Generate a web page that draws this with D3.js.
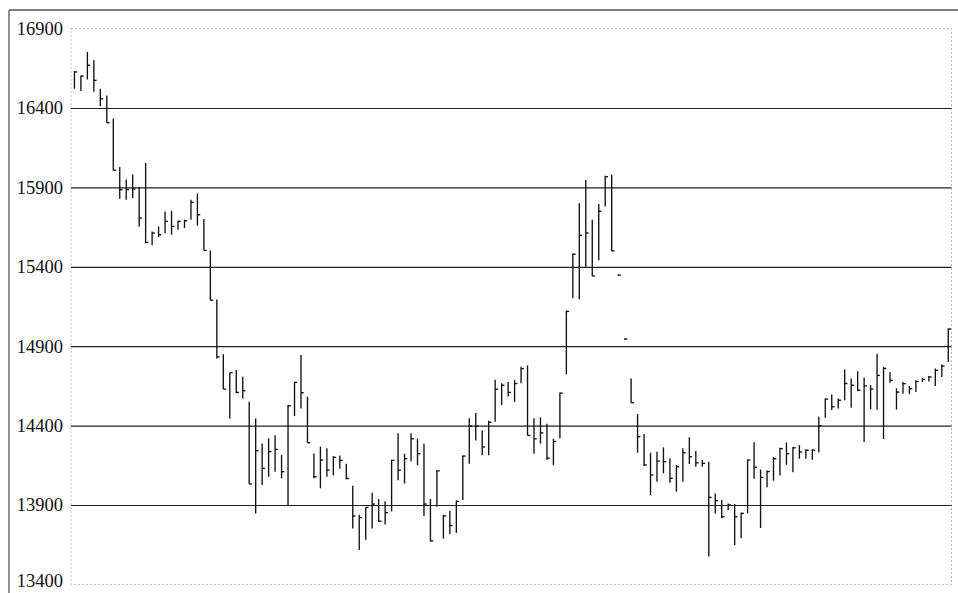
<!DOCTYPE html>
<html>
<head>
<meta charset="utf-8">
<script src="https://cdn.jsdelivr.net/npm/d3@7"></script>
<style>
  html, body { margin: 0; padding: 0; background: #fff; }
  svg { display: block; }
</style>
</head>
<body>
<svg id="chart" width="958" height="593"></svg>
<script>
// ---- data (one entry per trading slot) ----
const highs = [
  16633,16605,16753,16700,16521,16479,16332,16029,15949,15981,
  15903,16054,15623,15654,15749,15753,15690,15697,15823,15861,
  15701,15503,15194,14850,14733,14750,14708,14550,14445,14288,
  14320,14340,14215,14529,14676,14844,14582,14225,14267,14257,
  14208,14212,14160,14021,13838,13885,13977,13938,13923,14185,
  14352,14223,14352,14317,14285,13938,14119,13838,13864,13928,
  14212,14446,14479,14369,14431,14688,14667,14675,14688,14771,
  14779,14446,14452,14411,14317,14608,15125,15483,15800,15946,
  15696,15796,15973,15979,15348,14945,14697,14473,14347,14229,
  14236,14263,14194,14152,14257,14326,14240,14183,14173,13973,
  13931,13910,13906,13852,14187,14295,14123,14117,14202,14260,
  14294,14266,14277,14251,14251,14456,14571,14596,14571,14754,
  14696,14742,14703,14655,14853,14769,14738,14636,14674,14649,
  14685,14700,14712,14759,14784,15012
];
const lows = [
  16521,16507,16580,16502,16412,16307,16008,15829,15823,15833,
  15654,15549,15535,15587,15612,15602,15633,15644,15697,15659,
  15503,15190,14823,14630,14445,14603,14571,14032,13847,14026,
  14078,14110,14068,13900,14460,14508,14292,14068,14005,14078,
  14087,14129,14062,13752,13617,13681,13752,13794,13777,13859,
  14056,14035,14175,14150,13831,13670,13890,13688,13718,13724,
  13932,14160,14306,14213,14213,14425,14529,14584,14550,14667,
  14338,14223,14286,14183,14152,14321,14723,15202,15196,15400,
  15342,15442,15779,15500,15348,14945,14544,14229,14145,13963,
  14047,14099,14040,13984,14047,14158,14141,14141,13575,13847,
  13816,13868,13648,13690,13847,14065,13755,14011,14053,14085,
  14153,14106,14191,14191,14185,14230,14450,14498,14508,14560,
  14512,14617,14296,14502,14500,14315,14670,14501,14600,14600,
  14611,14674,14678,14649,14706,14801
];
const closes = [
  16627,16601,16669,16574,16458,16307,16008,15886,15886,15890,
  15707,15553,15613,15602,15686,15654,15686,15690,15806,15728,
  15503,15190,14833,14630,14733,14609,14620,14032,14242,14131,
  14236,14250,14110,14525,14672,14607,14292,14078,14183,14120,
  14200,14181,14067,13831,13821,13885,13906,13798,13852,14181,
  14119,14192,14317,14223,13906,13674,14115,13831,13771,13923,
  14208,14396,14396,14265,14421,14629,14654,14609,14665,14759,
  14338,14317,14354,14195,14300,14604,15119,15479,15598,15613,
  15342,15750,15967,15500,15348,14945,14544,14330,14152,14089,
  14177,14173,14068,14141,14229,14204,14166,14162,13948,13927,
  13826,13900,13826,13847,14183,14138,14074,14111,14191,14255,
  14223,14260,14234,14245,14245,14400,14567,14519,14560,14665,
  14654,14623,14650,14630,14716,14760,14685,14611,14664,14632,
  14678,14691,14706,14748,14775,15008
];
const yTicks = [13400,13900,14400,14900,15400,15900,16400,16900];
const gridValues = [13900,14400,14900,15400,15900,16400];

// ---- layout ----
const svg = d3.select("#chart");
const plot = {left: 71, right: 951.5, top: 28.6, bottom: 584.4};

const x = d3.scaleLinear().domain([-0.5, highs.length - 0.5]).range([plot.left + 0.2, plot.right]);
const y = d3.scaleLinear().domain([13400, 16900]).range([plot.bottom, plot.top]);

// outer frame (top + left)
svg.append("line").attr("x1", 9).attr("x2", 958).attr("y1", 10).attr("y2", 10)
  .attr("stroke", "#555").attr("stroke-width", 1.3);
svg.append("line").attr("x1", 9).attr("x2", 9).attr("y1", 10).attr("y2", 593)
  .attr("stroke", "#555").attr("stroke-width", 1.3);

// dotted plot frame
svg.append("rect")
  .attr("x", plot.left).attr("y", plot.top)
  .attr("width", plot.right - plot.left).attr("height", plot.bottom - plot.top)
  .attr("fill", "none").attr("stroke", "#b5b5b5").attr("stroke-width", 1)
  .attr("stroke-dasharray", "2,2");

// gridlines
const grid = svg.append("g").attr("transform", `translate(${plot.left},0)`)
  .call(d3.axisLeft(y).tickValues(gridValues).tickSize(-(plot.right - plot.left)).tickFormat(""));
grid.select(".domain").remove();
grid.selectAll(".tick line").attr("stroke", "#222").attr("stroke-width", 1.2);

// y labels
const yAxis = svg.append("g").attr("transform", `translate(${plot.left},0)`)
  .call(d3.axisLeft(y).tickValues(yTicks).tickSize(0).tickPadding(8).tickFormat(d3.format("d")));
yAxis.select(".domain").remove();
yAxis.selectAll("text")
  .attr("font-family", "'Liberation Serif', 'DejaVu Serif', serif")
  .attr("font-size", 18.5)
  .attr("fill", "#111")
  .attr("dy", d => d === 13400 ? "0.1em" : "0.32em");

// HLC bars
const idx = d3.range(highs.length);
const bars = svg.append("g").attr("stroke", "#111").attr("stroke-width", 1.35);
bars.selectAll("line.hl").data(idx).join("line").attr("class", "hl")
  .attr("x1", i => x(i)).attr("x2", i => x(i))
  .attr("y1", i => y(highs[i]) - (highs[i] === lows[i] ? 0.6 : 0))
  .attr("y2", i => y(lows[i]) + (highs[i] === lows[i] ? 0.6 : 0));
bars.selectAll("line.cl").data(idx).join("line").attr("class", "cl")
  .attr("x1", i => x(i)).attr("x2", i => x(i) + 2.8)
  .attr("y1", i => y(closes[i])).attr("y2", i => y(closes[i]));
</script>
</body>
</html>
